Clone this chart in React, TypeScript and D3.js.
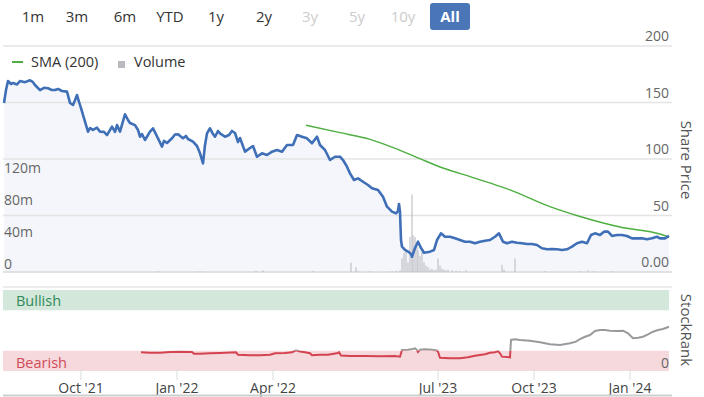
import React from "react";
import * as d3 from "d3";

// ---- Data (session index along an ordinal trading axis) ----
const priceSessions = [0,2,4,7,9,13,16,21,26,29,31,36,40,44,48,51,54,58,63,66,69,71,73,75,77,81,84,86,89,93,96,100,103,108,111,113,116,121,124,126,131,134,136,138,141,146,149,154,158,160,163,168,171,174,179,182,184,189,193,196,199,201,203,206,209,211,214,216,221,225,228,231,234,236,241,246,249,253,258,263,268,273,278,283,289,293,298,303,308,313,316,321,326,331,336,339,343,346,350,354,359,364,368,374,379,383,388,392,394,395,396,397,398,401,404,407,408,411,414,417,420,426,430,433,437,441,446,451,456,461,466,471,476,481,486,491,495,499,503,508,513,518,523,528,533,538,543,548,553,558,563,568,573,578,583,587,591,596,600,604,608,613,618,623,628,633,638,643,648,653,656,661,665];
const priceValues = [149.6,161,169,166.4,167.3,166,169,168,169.7,168,165.5,161,163,162.6,161,161,162,160.2,159.6,149.6,147.8,152,156.6,150.5,145,133,124.2,127.4,125.7,127.7,124.2,124,121.2,128.6,124,130,124.2,139.6,134.5,131.9,130,125.7,119.7,122,116.8,124.2,127.2,118.3,110.9,116,114.2,118.3,121.7,121.9,118.3,120.4,117.7,115.3,111.5,105,96.2,112.4,122.7,127.2,122.1,119.7,124.8,122.7,119.7,121.2,124.8,123,115,118.6,106.5,109.7,111.5,102,105,103.5,106.5,108,106.5,112.4,112.4,121.2,119.7,118.3,113.9,119.7,112.4,108,99.1,102,102,99.1,93.2,87.3,81.4,82.9,79.9,77,74.1,72.6,66.6,57.8,53.4,51.9,54,60.2,53.1,28.3,22.4,19.5,18.1,15.9,13.5,21.2,26.8,21.2,17.1,18,19.5,28.3,34.2,31.2,31.2,29.8,28.3,26.8,26.8,25.4,26.8,27.7,28.3,31.2,34.2,26.8,25.4,26.8,25.9,25.4,24.8,24.8,23.9,21,20.1,20.4,20.1,19.5,20.1,22.4,25.4,26.8,25.4,32.7,34.2,32.7,35.7,35.7,31.9,32.7,32.7,31.9,29.8,29.8,29.8,28.9,29.8,31.2,29.8,29.8,31.9];

const smaSessions = [302,336,366,396,416,436,466,496,506,546,576,616,656,665];
const smaValues = [129.9,123.3,117.4,107.7,100.3,92.9,84.4,75.8,72.6,57.8,49.1,39.8,33.6,31];

// volume in millions
const volumeSessions = [154,196,252,259,309,347,352,354,366,388,392,396,398,400,402,404,406,408,409,411,413,414,416,418,420,422,424,426,428,430,432,434,436,438,440,442,444,448,452,456,462,498,500,511,541,576,584,590,608];
const volumeValues = [1,1,1.5,2,1.5,11.5,6,1,1,1,1.5,2,17,24,27,12,44,97,46,44,32,27,20,25,12,8,6,3,4,2,3,17,8,4,3,2,3,2,1.5,1,2,9,3,17,1,1,2,1,1];

const rankSessions = [137,146,156,166,176,188,190,196,206,216,232,234,246,256,266,271,281,288,292,296,301,306,308,316,324,334,335,337,346,361,376,391,396,398,404,409,411,413,414,416,421,428,433,434,436,446,456,464,471,481,486,491,494,496,498,506,507,511,516,526,536,546,556,566,572,576,581,586,591,596,601,606,613,619,624,629,634,639,644,649,654,659,665];
const rankValues = [23.1,22.6,22.6,23.5,23.8,23.5,21.4,21.4,21.9,22.2,23.1,20.1,19.4,19.4,20.1,21.9,22.2,23.1,25.6,24.1,23.1,21.9,19.4,20.1,20.1,22.2,23.2,19.1,18.5,18.5,18.1,18.5,17.7,26,26.3,27.2,28,25.9,23.5,26.3,26.8,26.3,25.3,23.8,16.4,15.7,15.7,16.9,18.9,20.6,22.6,23.1,24.5,21.9,17.7,16.9,38.3,39.1,38.3,37.4,35.4,33,32.1,34.2,36.2,39.5,42.3,44.4,49.4,50.6,50.6,49.8,49.4,49.8,46.5,40.4,41.1,42.3,45.3,48.5,50.6,51.9,54.7];

const xTickSessions = [77,173,269,434,530,626];
const xTickLabels = ["Oct '21","Jan '22","Apr '22","Jul '23","Oct '23","Jan '24"];
const priceTicks = [0,50,100,150,200];
const volumeTicks = [0,40,80,120];
const rangeButtons = ["1m","3m","6m","YTD","1y","2y","3y","5y","10y","All"];
const rangeEnabled = [true,true,true,true,true,true,false,false,false,true];
const bearishMax = 25;
const bullishMin = 75;

const FONT = "'Open Sans', 'DejaVu Sans', sans-serif";

export default function App() {
  const W = 704, H = 397;
  const x = d3.scaleLinear().domain([0, 665]).range([4, 669]);
  const yP = d3.scaleLinear().domain([0, 200]).range([272, 46]);
  const yV = d3.scaleLinear().domain([0, 40]).range([272, 240]);
  const yR = d3.scaleLinear().domain([0, 100]).range([371, 290]);

  const price = priceSessions.map((s, i) => ({ s, v: priceValues[i] }));
  const sma = smaSessions.map((s, i) => ({ s, v: smaValues[i] }));
  const rank = rankSessions.map((s, i) => ({ s, v: rankValues[i] }));

  const priceLine = d3.line<any>().x(d => x(d.s)).y(d => yP(d.v));
  const priceArea = d3.area<any>().x(d => x(d.s)).y0(yP(0)).y1(d => yP(d.v));
  const smaLine = d3.line<any>().x(d => x(d.s)).y(d => yP(d.v)).curve(d3.curveMonotoneX);
  const rankLine = d3.line<any>().x(d => x(d.s)).y(d => yR(d.v));

  const btnX = [33, 77, 125, 170, 216, 264, 310, 357, 403, 450];

  return (
    <svg width={W} height={H} style={{ position: "absolute", left: 0, top: 0, fontFamily: FONT }}>
      <defs>
        <clipPath id="rankAbove">
          <rect x={0} y={0} width={W} height={yR(bearishMax)} />
        </clipPath>
        <clipPath id="rankBelow">
          <rect x={0} y={yR(bearishMax)} width={W} height={H} />
        </clipPath>
      </defs>
      <rect width={W} height={H} fill="#fff" />

      {/* range selector */}
      {rangeButtons.map((b, i) => {
        const last = b === "All";
        return (
          <g key={b}>
            {last && <rect x={btnX[i] - 20} y={3} width={40} height={27} rx={3} fill="#4a76b8" />}
            <text x={btnX[i]} y={22} textAnchor="middle" fontSize={15}
              fill={last ? "#fff" : rangeEnabled[i] ? "#333" : "#cccccc"} fontWeight={last ? "bold" : "normal"}>{b}</text>
          </g>
        );
      })}

      {/* price area */}
      <path d={priceArea(price) || ""} fill="#f4f6fb" />
      {priceTicks.map(t => (
        <line key={t} x1={3} x2={672} y1={yP(t)} y2={yP(t)} stroke={t === 0 ? "#d8d8d8" : "#e4e4e4"} strokeWidth={1.5} />
      ))}

      {/* volume */}
      {volumeSessions.map((s, i) => (
        <rect key={i} x={x(s) - 0.6} width={1.2} y={yV(volumeValues[i])} height={yV(0) - yV(volumeValues[i])} fill="#c2c2c8" />
      ))}

      <path d={smaLine(sma) || ""} fill="none" stroke="#4caf3f" strokeWidth={1.4} />
      <path d={priceLine(price) || ""} fill="none" stroke="#3f6fb6" strokeWidth={2.6} strokeLinejoin="round" />

      {/* axes labels */}
      {priceTicks.map(t => (
        <text key={t} x={669} y={yP(t) - 5} textAnchor="end" fontSize={14} fill="#666">{t === 0 ? "0.00" : t}</text>
      ))}
      {volumeTicks.map(t => (
        <text key={t} x={4} y={yV(t) - 3} textAnchor="start" fontSize={14} fill="#666">{t === 0 ? "0" : `${t}m`}</text>
      ))}
      <text transform={`translate(681,160) rotate(90)`} textAnchor="middle" fontSize={15} fill="#555">Share Price</text>

      {/* legend */}
      <line x1={12} x2={23} y1={62} y2={62} stroke="#4caf3f" strokeWidth={2} />
      <text x={31} y={67} fontSize={14.5} fill="#333">SMA (200)</text>
      <rect x={118} y={61} width={7} height={7} fill="#b9b9c0" />
      <text x={134} y={67} fontSize={14.5} fill="#333">Volume</text>

      {/* StockRank panel */}
      <line x1={3} x2={672} y1={287} y2={287} stroke="#e6e6e6" strokeWidth={1.5} />
      <rect x={3} y={yR(100)} width={666} height={yR(bullishMin) - yR(100)} fill="#d3e7db" />
      <rect x={3} y={yR(bearishMax)} width={666} height={yR(0) - yR(bearishMax)} fill="#f5d9dc" />
      <text x={16} y={306} fontSize={14.5} fill="#2e8b57">Bullish</text>
      <text x={16} y={368} fontSize={14.5} fill="#d04a58">Bearish</text>
      <text x={669} y={368} textAnchor="end" fontSize={14} fill="#666">0</text>
      <path d={rankLine(rank) || ""} fill="none" stroke="#9a9a9a" strokeWidth={2} clipPath="url(#rankAbove)" />
      <path d={rankLine(rank) || ""} fill="none" stroke="#d4434f" strokeWidth={2} clipPath="url(#rankBelow)" />
      <text transform={`translate(681,330) rotate(90)`} textAnchor="middle" fontSize={15} fill="#555">StockRank</text>

      {/* x axis */}
      {xTickSessions.map((s, i) => (
        <g key={s}>
          <line x1={x(s)} x2={x(s)} y1={369} y2={380} stroke="#dcdcdc" />
          <text x={x(s)} y={393} textAnchor="middle" fontSize={14} fill="#444">{xTickLabels[i]}</text>
        </g>
      ))}
      <line x1={3} x2={672} y1={395.5} y2={395.5} stroke="#cfcfcf" strokeWidth={2} />
    </svg>
  );
}
